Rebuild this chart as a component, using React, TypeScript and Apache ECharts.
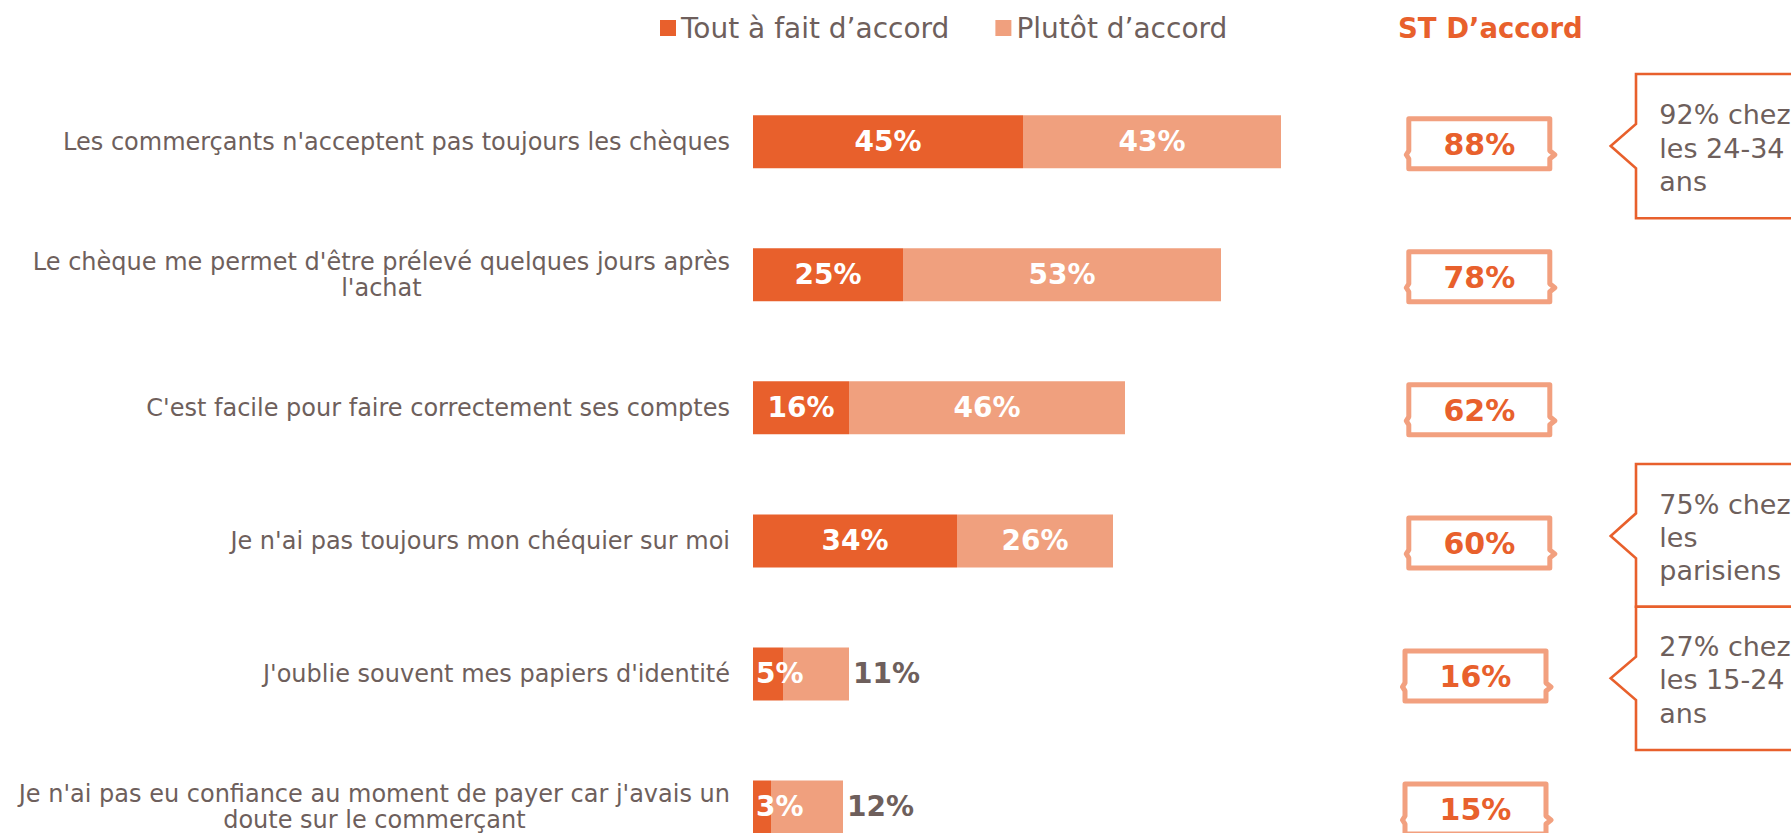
import React, { useEffect, useRef } from "react";
import * as echarts from "echarts";

const categories = [
  "Les commerçants n'acceptent pas toujours les chèques",
  "Le chèque me permet d'être prélevé quelques jours après\nl'achat",
  "C'est facile pour faire correctement ses comptes",
  "Je n'ai pas toujours mon chéquier sur moi",
  "J'oublie souvent mes papiers d'identité",
  "Je n'ai pas eu confiance au moment de payer car j'avais un\ndoute sur le commerçant",
];
const seriesNames = ["Tout à fait d’accord", "Plutôt d’accord"];
const toutAFait = [45, 25, 16, 34, 5, 3];
const plutot = [43, 53, 46, 26, 11, 12];
const stAccord = [88, 78, 62, 60, 16, 15];
const stTitle = "ST D’accord";
const calloutTexts = ["92% chez\nles 24-34\nans", "75% chez\nles\nparisiens", "27% chez\nles 15-24\nans"];

const DARK = "#E8602C";
const LIGHT = "#F0A07E";
const BOX = "#F2A07F";
const GRAY = "#6E5F5C";
const FONT = "DejaVu Sans";

export default function App() {
  const ref = useRef<HTMLDivElement>(null);
  useEffect(() => {
    const chart = echarts.init(ref.current!, null, { renderer: "svg" });
    const small = (i: number) => stAccord[i] < 20;

    const callout = (top: number, bottom: number, tipY: number, baseTop: number, baseBot: number) => ({
      type: "polygon",
      shape: {
        points: [
          [1800, top], [1636, top], [1636, baseTop], [1610.7, tipY],
          [1636, baseBot], [1636, bottom], [1800, bottom],
        ],
      },
      style: { fill: "#fff", stroke: DARK, lineWidth: 2.6, lineJoin: "miter" },
    });
    const calloutText = (text: string, top: number) => ({
      type: "text",
      x: 1659.3,
      y: top,
      style: {
        text, fill: GRAY, font: `27px "${FONT}"`, lineHeight: 33.3,
        align: "left", verticalAlign: "top",
      },
    });

    chart.setOption({
      animation: false,
      textStyle: { fontFamily: FONT },
      legend: {
        data: seriesNames,
        left: 660,
        top: 14,
        padding: 0,
        itemGap: 46,
        itemWidth: 16,
        itemHeight: 16,
        icon: "rect",
        textStyle: { fontSize: 28, color: GRAY, fontFamily: FONT },
      },
      grid: {
        left: 753, width: 600, top: 75.2, height: 798.3,
        containLabel: false, outerBoundsMode: "none",
      },
      xAxis: { type: "value", min: 0, max: 100, show: false },
      yAxis: {
        type: "category",
        inverse: true,
        data: categories,
        axisLine: { show: false },
        axisTick: { show: false },
        splitLine: { show: false },
        axisLabel: {
          interval: 0,
          margin: 23,
          formatter: (v: string) => v.split("\n").map((l) => `{c|${l}}`).join("\n"),
          rich: {
            c: { fontSize: 24, lineHeight: 26, color: GRAY, align: "center", fontFamily: FONT },
          },
        },
      },
      series: [
        {
          name: seriesNames[0],
          type: "bar",
          stack: "total",
          barWidth: 53,
          itemStyle: { color: DARK },
          label: {
            show: true, position: "inside", formatter: "{c}%", color: "#fff",
            fontWeight: "bold", fontSize: 28, fontFamily: FONT,
          },
          data: toutAFait.map((v, i) => ({
            value: v,
            label: small(i) ? { position: "insideLeft", distance: 3 } : {},
          })),
        },
        {
          name: seriesNames[1],
          type: "bar",
          stack: "total",
          barWidth: 53,
          itemStyle: { color: LIGHT },
          label: {
            show: true, position: "inside", formatter: "{c}%", color: "#fff",
            fontWeight: "bold", fontSize: 28, fontFamily: FONT,
          },
          data: plutot.map((v, i) => ({
            value: v,
            label: small(i) ? { position: "right", distance: 4, color: GRAY } : {},
          })),
        },
        {
          type: "custom",
          clip: false,
          encode: { x: 0, y: 1 },
          data: stAccord.map((v, i) => [v, i]),
          renderItem: (params: any, api: any) => {
            const y = api.coord([0, api.value(1)])[1] + 2;
            const cx = params.dataIndex >= 4 ? 1475.5 : 1479.3;
            const W = 141, H = 50;
            const x0 = cx - W / 2, y0 = y - H / 2;
            const pts = [
              [x0, y0], [x0 + W, y0], [x0 + W, y0 + 0.64 * H], [x0 + W + 5, y0 + 0.72 * H],
              [x0 + W, y0 + 0.8 * H], [x0 + W, y0 + H], [x0, y0 + H], [x0, y0 + 0.8 * H],
              [x0 - 2.5, y0 + 0.72 * H], [x0, y0 + 0.64 * H],
            ];
            return {
              type: "group",
              children: [
                {
                  type: "polygon",
                  shape: { points: pts },
                  style: { fill: "#fff", stroke: BOX, lineWidth: 5, lineJoin: "round" },
                },
                {
                  type: "text",
                  style: {
                    text: api.value(0) + "%", x: cx, y: y + 1, align: "center", verticalAlign: "middle",
                    font: `bold 30px "${FONT}"`, fill: DARK,
                  },
                },
              ],
            };
          },
        },
      ],
      graphic: [
        {
          type: "text",
          x: 1398,
          y: 27.5,
          style: { text: stTitle, fill: DARK, font: `bold 27.5px "${FONT}"`, align: "left", verticalAlign: "middle" },
        },
        callout(74, 218.3, 146, 124, 168.3),
        calloutText(calloutTexts[0], 98.3),
        callout(464, 606.7, 536, 513.3, 558.3),
        calloutText(calloutTexts[1], 487.6),
        callout(606.7, 750, 678.3, 656.7, 700),
        calloutText(calloutTexts[2], 630),
      ],
    });
    return () => chart.dispose();
  }, []);
  return (
    <div
      ref={ref}
      style={{ position: "fixed", left: 0, top: 0, width: 1791, height: 833, background: "#fff" }}
    />
  );
}
